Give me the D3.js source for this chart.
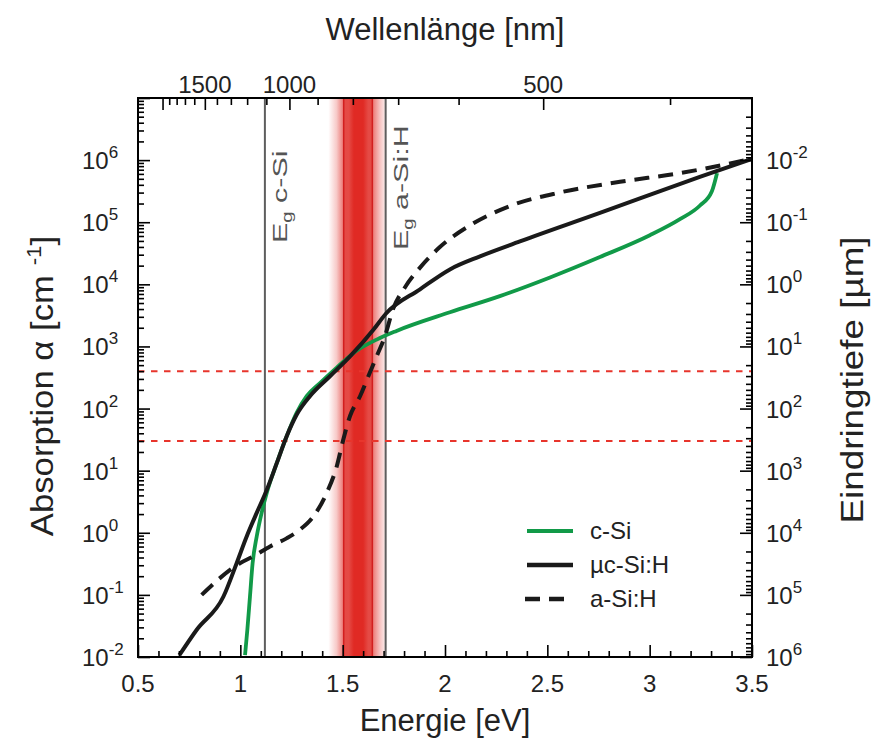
<!DOCTYPE html>
<html><head><meta charset="utf-8">
<script src="https://cdn.jsdelivr.net/npm/d3@7/dist/d3.min.js"></script>
<style>body{margin:0;background:#fff} text{font-family:"Liberation Sans",Arial,sans-serif;fill:#222}</style>
</head><body><svg id="c" width="871" height="738"></svg>
<script>
// ---------- data ----------
const energyTicks = [0.5, 1, 1.5, 2, 2.5, 3, 3.5];
const wavelengthLabels = [1500, 1000, 500];
const wavelengthMajor = [500, 1000, 1500, 2000];
const wavelengthMinor = [400, 600, 700, 800, 900, 1100, 1200, 1300, 1400, 1600, 1700, 1800, 1900];
const alphaExponents = [-2, -1, 0, 1, 2, 3, 4, 5, 6];
const depthExponents = [-2, -1, 0, 1, 2, 3, 4, 5, 6];

const cSiE = [1.023,1.034,1.047,1.060,1.080,1.104,1.129,1.178,1.226,1.275,1.324,1.389,1.471,1.568,1.666,1.763,2.024,2.268,2.513,2.757,3.001,3.148,3.246,3.304,3.329];
const cSiA = [0.0107,0.0269,0.0933,0.324,0.871,2.09,4.37,13.2,35.5,85.1,158,257,457,851,1290,1780,3550,6460,12900,27500,61700,112000,186000,316000,617000];

const ucSiE = [0.702,0.787,0.917,0.982,1.031,1.080,1.129,1.178,1.226,1.275,1.340,1.438,1.536,1.650,1.712,1.878,2.024,2.171,2.366,2.757,3.245,3.5];
const ucSiA = [0.0107,0.0275,0.0933,0.324,0.871,2.09,4.90,13.2,35.5,79.4,158,331,692,1860,3390,8320,17400,28200,49000,141000,537000,1050000];

const aSiE = [0.811,0.900,0.998,1.063,1.145,1.226,1.291,1.356,1.422,1.471,1.503,1.536,1.585,1.633,1.666,1.707,1.746,1.804,1.878,1.975,2.122,2.317,2.562,2.855,3.148,3.5];
const aSiA = [0.1,0.186,0.324,0.417,0.603,0.813,1.12,1.82,4.37,11.7,31.6,75.9,158,380,692,1480,3980,8910,18600,39800,89100,182000,302000,447000,617000,1050000];

const gapEnergies = [1.12, 1.71];
const gapLabels = ["c-Si", "a-Si:H"];
const bandEdges = [1.505, 1.645];
const bandStopE = [1.43, 1.47, 1.50, 1.505, 1.53, 1.555, 1.60, 1.625, 1.645, 1.65, 1.68, 1.72];
const bandStopO = [0, 0.25, 0.6, 0.85, 0.85, 1, 1, 0.85, 0.85, 0.6, 0.3, 0];
const depthLineAlpha = [400, 30];

const seriesNames = ["c-Si", "\u00b5c-Si:H", "a-Si:H"];
const seriesColors = ["#119a48", "#1a1a1a", "#1a1a1a"];

// ---------- scales ----------
const L = 138, R = 752, T = 98, B = 657;
const x = d3.scaleLinear([0.5, 3.5], [L, R]);
const y = d3.scaleLog([1e-2, 1e7], [B, T]);
const depth = d3.scaleLog([1e6, 1e-3], [B, T]);
const invLam = d3.scaleLinear([0.5 / 1239.84, 3.5 / 1239.84], [L, R]);

const svg = d3.select("#c");
const defs = svg.append("defs");
defs.append("clipPath").attr("id", "clip").append("rect")
  .attr("x", L).attr("y", T).attr("width", R - L).attr("height", B - T);

// band gradient
const g0 = bandStopE[0], g1 = bandStopE[bandStopE.length - 1];
const grad = defs.append("linearGradient").attr("id", "band")
  .attr("gradientUnits", "userSpaceOnUse")
  .attr("x1", x(g0)).attr("x2", x(g1)).attr("y1", 0).attr("y2", 0);
bandStopE.forEach((e, i) => grad.append("stop")
  .attr("offset", (e - g0) / (g1 - g0))
  .attr("stop-color", "#e02a24").attr("stop-opacity", bandStopO[i]));

const plot = svg.append("g").attr("clip-path", "url(#clip)");
plot.append("rect").attr("x", x(g0)).attr("y", T).attr("width", x(g1) - x(g0)).attr("height", B - T)
  .attr("fill", "url(#band)");
plot.selectAll(".be").data(bandEdges).join("line")
  .attr("x1", d => x(d)).attr("x2", d => x(d)).attr("y1", T).attr("y2", B)
  .attr("stroke", "#d21f1f").attr("stroke-width", 1.5);

// gap lines
plot.selectAll(".gl").data(gapEnergies).join("line")
  .attr("x1", d => x(d)).attr("x2", d => x(d)).attr("y1", T).attr("y2", B)
  .attr("stroke", "#5e5e5e").attr("stroke-width", 2);

// red dashed lines
plot.selectAll(".rl").data(depthLineAlpha).join("line")
  .attr("x1", L).attr("x2", R).attr("y1", d => y(d)).attr("y2", d => y(d))
  .attr("stroke", "#e8352c").attr("stroke-width", 2).attr("stroke-dasharray", "6.5,6.5");

// curves
const line = d3.line().x(d => x(d[0])).y(d => y(d[1])).curve(d3.curveMonotoneX);
const zip = (a, b) => a.map((v, i) => [v, b[i]]);
plot.append("path").datum(zip(cSiE, cSiA)).attr("d", line)
  .attr("fill", "none").attr("stroke", seriesColors[0]).attr("stroke-width", 3.8);
plot.append("path").datum(zip(ucSiE, ucSiA)).attr("d", line)
  .attr("fill", "none").attr("stroke", seriesColors[1]).attr("stroke-width", 4);
plot.append("path").datum(zip(aSiE, aSiA)).attr("d", line)
  .attr("fill", "none").attr("stroke", seriesColors[2]).attr("stroke-width", 4)
  .attr("stroke-dasharray", "15,9");

// gap labels
gapEnergies.forEach((e, i) => {
  const t = svg.append("text")
    .attr("transform", `translate(${x(e) + 22},${i === 0 ? 243 : 250}) rotate(-90) scale(1.45,1)`)
    .attr("font-size", 21).style("fill", "#555");
  t.append("tspan").text("E");
  t.append("tspan").attr("font-size", 14).attr("dy", 5).text("g");
  t.append("tspan").attr("dy", -5).text(" " + gapLabels[i]);
});

// ---------- axes ----------
function clean(g) { g.select(".domain").remove(); g.selectAll("text").remove(); g.selectAll("line").attr("stroke", "#000").attr("stroke-width", 1.6); }
const yMaj = alphaExponents.concat([7]).map(e => Math.pow(10, e));
const yMin = y.ticks().filter(v => !yMaj.some(m => Math.abs(m - v) / m < 1e-6));
svg.append("g").attr("transform", `translate(${L},0)`).call(d3.axisRight(y).tickValues(yMin).tickSize(6)).call(clean);
svg.append("g").attr("transform", `translate(${L},0)`).call(d3.axisRight(y).tickValues(yMaj).tickSize(12)).call(clean);

const dMaj = depthExponents.concat([-3]).map(e => Math.pow(10, e));
const dMin = depth.ticks().filter(v => !dMaj.some(m => Math.abs(m - v) / m < 1e-6));
svg.append("g").attr("transform", `translate(${R},0)`).call(d3.axisLeft(depth).tickValues(dMin).tickSize(6)).call(clean);
svg.append("g").attr("transform", `translate(${R},0)`).call(d3.axisLeft(depth).tickValues(dMaj).tickSize(12)).call(clean);

const xMin = x.ticks(30).filter(v => !energyTicks.some(m => Math.abs(m - v) < 1e-6));
svg.append("g").attr("transform", `translate(0,${B})`).call(d3.axisTop(x).tickValues(xMin).tickSize(6)).call(clean);
svg.append("g").attr("transform", `translate(0,${B})`).call(d3.axisTop(x).tickValues(energyTicks).tickSize(12)).call(clean);

svg.append("g").attr("transform", `translate(0,${T})`).call(d3.axisBottom(invLam).tickValues(wavelengthMinor.map(l => 1 / l)).tickSize(7)).call(clean);
svg.append("g").attr("transform", `translate(0,${T})`).call(d3.axisBottom(invLam).tickValues(wavelengthMajor.map(l => 1 / l)).tickSize(12)).call(clean);

svg.append("rect").attr("x", L).attr("y", T).attr("width", R - L).attr("height", B - T)
  .attr("fill", "none").attr("stroke", "#000").attr("stroke-width", 2);

// tick labels
svg.selectAll(".xl").data(energyTicks).join("text")
  .attr("x", d => x(d)).attr("y", B + 35).attr("text-anchor", "middle").attr("font-size", 24)
  .text(d => d);
svg.selectAll(".wl").data(wavelengthLabels).join("text")
  .attr("x", d => invLam(1 / d)).attr("y", T - 5).attr("text-anchor", "middle").attr("font-size", 24)
  .text(d => d);
function powLabel(xp, yp, e) {
  const t = svg.append("text").attr("x", xp).attr("y", yp).attr("font-size", 24);
  t.append("tspan").text("10");
  t.append("tspan").attr("font-size", 17).attr("dy", -11).text(e);
}
alphaExponents.forEach(e => powLabel(82, y(Math.pow(10, e)) + 9, e));
depthExponents.forEach(e => powLabel(766, depth(Math.pow(10, e)) + 9, e));

// axis titles
svg.append("text").attr("x", 445).attr("y", 40).attr("text-anchor", "middle").attr("font-size", 31).text("Wellenlänge [nm]");
svg.append("text").attr("x", 445).attr("y", 731).attr("text-anchor", "middle").attr("font-size", 31).text("Energie [eV]");
const lt = svg.append("text").attr("transform", "translate(53,386) rotate(-90) scale(1.12,1)").attr("text-anchor", "middle").attr("font-size", 31);
lt.append("tspan").text("Absorption \u03b1 [cm ");
lt.append("tspan").attr("font-size", 20).attr("dy", -12).text("-1");
lt.append("tspan").attr("dy", 12).text("]");
svg.append("text").attr("transform", "translate(863,380) rotate(-90) scale(1.15,1)").attr("text-anchor", "middle").attr("font-size", 32).text("Eindringtiefe [\u00b5m]");

// legend
const legY = [531, 565, 599];
seriesNames.forEach((n, i) => {
  if (i < 2) {
    svg.append("line").attr("x1", 527).attr("x2", 573).attr("y1", legY[i]).attr("y2", legY[i])
      .attr("stroke", seriesColors[i]).attr("stroke-width", i === 0 ? 4 : 4.5);
  } else {
    svg.append("line").attr("x1", 525).attr("x2", 568).attr("y1", legY[i]).attr("y2", legY[i])
      .attr("stroke", seriesColors[i]).attr("stroke-width", 4.5).attr("stroke-dasharray", "15,9");
  }
  svg.append("text").attr("x", 590).attr("y", legY[i] + 8).attr("font-size", 24).text(n);
});
</script></body></html>
